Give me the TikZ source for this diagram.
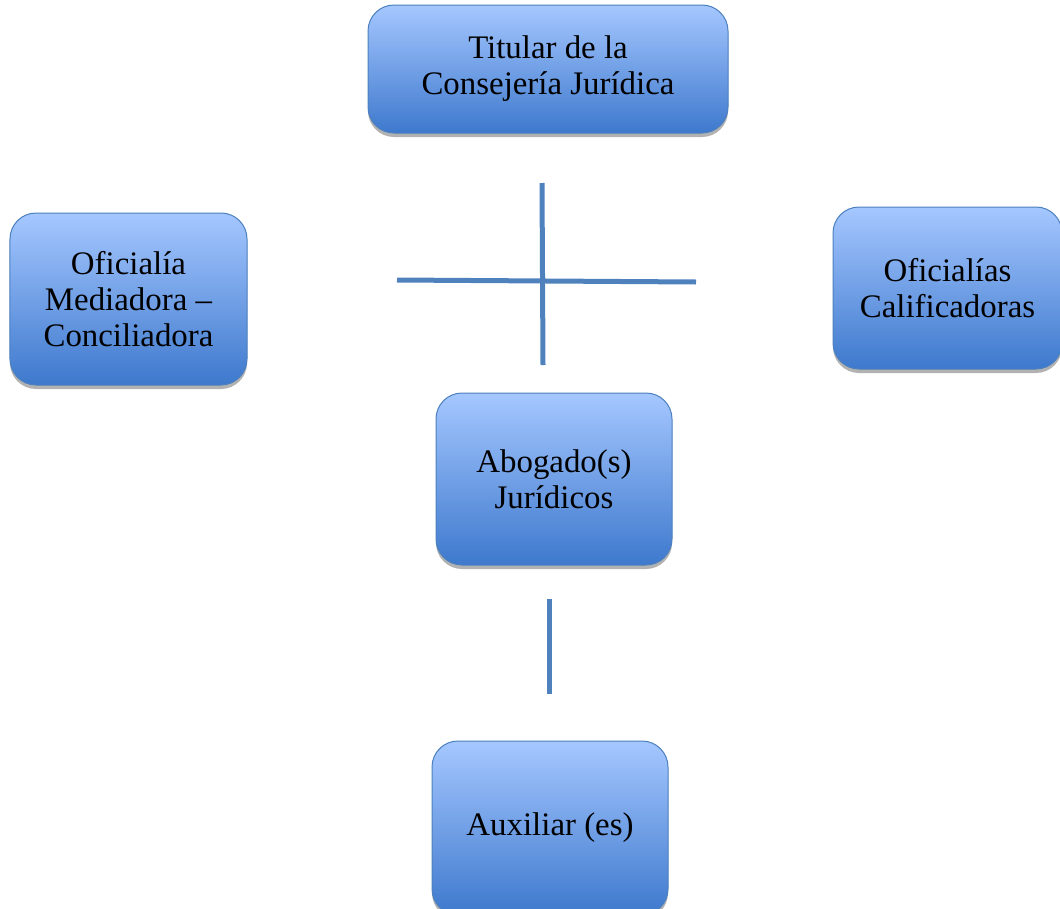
\documentclass[tikz,border=0pt]{standalone}
\usepackage{fontspec}
\setmainfont{Liberation Serif}
\usetikzlibrary{shadows}
\definecolor{boxtop}{RGB}{165,199,255}
\definecolor{boxbottom}{RGB}{62,121,205}
\definecolor{boxedge}{RGB}{76,128,190}
\definecolor{linkblue}{RGB}{79,129,189}
\tikzset{
  orgbox/.style={rectangle, rounded corners=26bp, draw=boxedge, line width=1bp,
    top color=boxtop, bottom color=boxbottom, align=center, inner sep=0pt,
    font=\fontsize{33}{36}\selectfont,
    drop shadow={shadow xshift=0bp, shadow yshift=-4bp, opacity=0.3, fill=black}},
  link/.style={linkblue, line width=5bp}
}

\begin{document}
\begin{tikzpicture}[x=1bp,y=-1bp]
\useasboundingbox (0,0) rectangle (1060,909);

% boxes
\node[orgbox, minimum width=360bp, minimum height=128bp] (titular) at (548,69) {Titular de la\\Consejería Jurídica};
\node[orgbox, minimum width=237bp, minimum height=172bp] (mediadora) at (128.5,299) {Oficialía\\Mediadora –\\Conciliadora};
\node[orgbox, minimum width=229bp, minimum height=162bp] (calificadoras) at (947.5,288) {Oficialías\\Calificadoras};
\node[orgbox, minimum width=236bp, minimum height=172bp] (abogados) at (554,479) {Abogado(s)\\Jurídicos};
\node[orgbox, minimum width=236bp, minimum height=174bp] (auxiliares) at (550,828) {Auxiliar (es)};

% free line ends
\coordinate (crossN) at (542,183);
\coordinate (crossS) at (543,365);
\coordinate (crossW) at (397,280);
\coordinate (crossE) at (696,282);
\coordinate (linkN) at (549,599);
\coordinate (linkS) at (549,694);

\draw[link] (crossN) -- (crossS);
\draw[link] (crossW) -- (crossE);
\draw[link] (linkN) -- (linkS);

\end{tikzpicture}
\end{document}
